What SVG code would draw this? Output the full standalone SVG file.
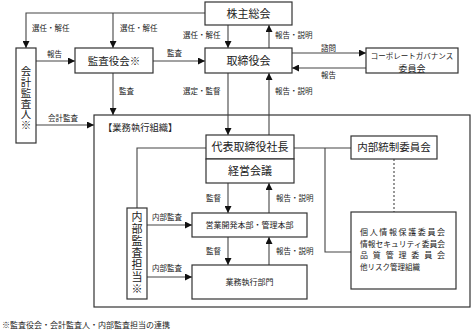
<svg xmlns="http://www.w3.org/2000/svg" width="471" height="331" viewBox="0 0 471 331">
<style>
text{font-family:"Noto Sans CJK JP","Noto Sans CJK SC",sans-serif;fill:#222}
.box{fill:#fff;stroke:#333;stroke-width:1.2}
.ln{fill:none;stroke:#444;stroke-width:1.1}
.ar{marker-end:url(#ah)}
.lbl{font-size:7.5px}
.nt{font-size:10.5px;text-anchor:middle}
.vt{writing-mode:vertical-rl;font-size:10.5px}
</style>
<defs>
<marker id="ah" viewBox="0 0 8 8" refX="8" refY="4" markerWidth="7" markerHeight="7" markerUnits="userSpaceOnUse" orient="auto">
<path d="M0,0 L8,4 L0,8 z" fill="#111"/>
</marker>
</defs>
<rect width="471" height="331" fill="#fff"/>

<g id="org">
<rect class="box" x="94" y="115" width="376" height="192" fill="none"/>
<text x="103" y="131" style="font-size:9.3px">【業務執行組織】</text>
</g>

<g id="connectors">
<polyline class="ln ar" points="205,13 26,13 26,48"/>
<line class="ln ar" x1="113" y1="13" x2="113" y2="48"/>
<line class="ln ar" x1="228" y1="25" x2="228" y2="48"/>
<line class="ln ar" x1="269" y1="48" x2="269" y2="25"/>
<line class="ln ar" x1="36" y1="61" x2="75" y2="61"/>
<line class="ln ar" x1="153" y1="61" x2="205" y2="61"/>
<line class="ln ar" x1="292" y1="53" x2="366" y2="53"/>
<line class="ln ar" x1="366" y1="68" x2="292" y2="68"/>
<line class="ln ar" x1="113" y1="73" x2="113" y2="115"/>
<line class="ln ar" x1="228" y1="73" x2="228" y2="135"/>
<line class="ln ar" x1="269" y1="135" x2="269" y2="73"/>
<line class="ln ar" x1="36" y1="125" x2="94" y2="125"/>
<polyline class="ln" points="206,148 137,148 137,208"/>
<line class="ln" x1="294" y1="148" x2="351" y2="148"/>
<polyline class="ln" points="325,148 325,252 351,252"/>
<line class="ln" x1="394" y1="159" x2="394" y2="212" stroke-dasharray="2,2"/>
<line class="ln ar" x1="228" y1="183" x2="228" y2="213"/>
<line class="ln ar" x1="269" y1="213" x2="269" y2="183"/>
<line class="ln ar" x1="228" y1="237" x2="228" y2="265"/>
<line class="ln ar" x1="269" y1="265" x2="269" y2="237"/>
<line class="ln ar" x1="147" y1="225" x2="192" y2="225"/>
<line class="ln ar" x1="147" y1="277" x2="192" y2="277"/>
<text class="lbl" x="32" y="31">選任・解任</text>
<text class="lbl" x="120" y="31">選任・解任</text>
<text class="lbl" x="183" y="38">選任・解任</text>
<text class="lbl" x="275" y="38">報告・説明</text>
<text class="lbl" x="47" y="57">報告</text>
<text class="lbl" x="167" y="56">監査</text>
<text class="lbl" x="321" y="51">諮問</text>
<text class="lbl" x="321" y="78">報告</text>
<text class="lbl" x="119" y="94">監査</text>
<text class="lbl" x="183" y="94">選定・監督</text>
<text class="lbl" x="275" y="94">報告・説明</text>
<text class="lbl" x="48" y="121">会計監査</text>
<text class="lbl" x="206" y="201">監督</text>
<text class="lbl" x="276" y="201">報告・説明</text>
<text class="lbl" x="206" y="254">監督</text>
<text class="lbl" x="276" y="254">報告・説明</text>
<text class="lbl" x="152" y="220">内部監査</text>
<text class="lbl" x="152" y="271">内部監査</text>
</g>

<g id="shareholders">
<rect class="box" x="205" y="2" width="87" height="23"/>
<text class="nt" x="248.5" y="17.5" style="font-size:11px">株主総会</text>
</g>

<g id="auditor">
<rect class="box" x="16" y="48" width="20" height="95"/>
<text class="vt" x="26" y="66" style="letter-spacing:0.3px">会計監査人※</text>
</g>

<g id="kansayaku">
<rect class="box" x="75" y="48" width="78" height="25"/>
<text class="nt" x="114" y="65">監査役会※</text>
</g>

<g id="board">
<rect class="box" x="205" y="48" width="87" height="25"/>
<text class="nt" x="248.5" y="65" style="font-size:11px">取締役会</text>
</g>

<g id="cg">
<rect class="box" x="366" y="48" width="92" height="25"/>
<text class="nt" x="412" y="58.5" style="font-size:7.5px">コーポレートガバナンス</text>
<text class="nt" x="412" y="71.5" style="font-size:9px">委員会</text>
</g>

<g id="president">
<rect class="box" x="206" y="135" width="88" height="24"/>
<text class="nt" x="250" y="151" style="font-size:11px">代表取締役社長</text>
</g>

<g id="keiei">
<rect class="box" x="206" y="159" width="88" height="24"/>
<text class="nt" x="250" y="175" style="font-size:11px">経営会議</text>
</g>

<g id="naibutosei">
<rect class="box" x="351" y="136" width="86" height="23"/>
<text class="nt" x="394" y="151">内部統制委員会</text>
</g>

<g id="eigyo">
<rect class="box" x="192" y="213" width="115" height="24"/>
<text class="nt" x="249.5" y="228" style="font-size:8px">営業開発本部・管理本部</text>
</g>

<g id="gyomu">
<rect class="box" x="192" y="265" width="115" height="34"/>
<text class="nt" x="249.5" y="285" style="font-size:8px">業務執行部門</text>
</g>

<g id="naibukansa">
<rect class="box" x="127" y="208" width="20" height="91"/>
<text class="vt" x="137" y="211" style="font-size:11px;letter-spacing:1px">内部監査担当※</text>
</g>

<g id="risk">
<rect class="box" x="351" y="212" width="105" height="77"/>
<text style="font-size:8px"><tspan x="360" y="235" textLength="85" lengthAdjust="spacing">個人情報保護委員会</tspan><tspan x="360" y="246.6" textLength="85" lengthAdjust="spacingAndGlyphs">情報セキュリティ委員会</tspan><tspan x="360" y="258.2" textLength="85" lengthAdjust="spacing">品質管理委員会</tspan><tspan x="360" y="269.8" style="font-size:7.5px">他リスク管理組織</tspan></text>
</g>

<text x="2" y="328" style="font-size:8px">※監査役会・会計監査人・内部監査担当の連携</text>
</svg>
